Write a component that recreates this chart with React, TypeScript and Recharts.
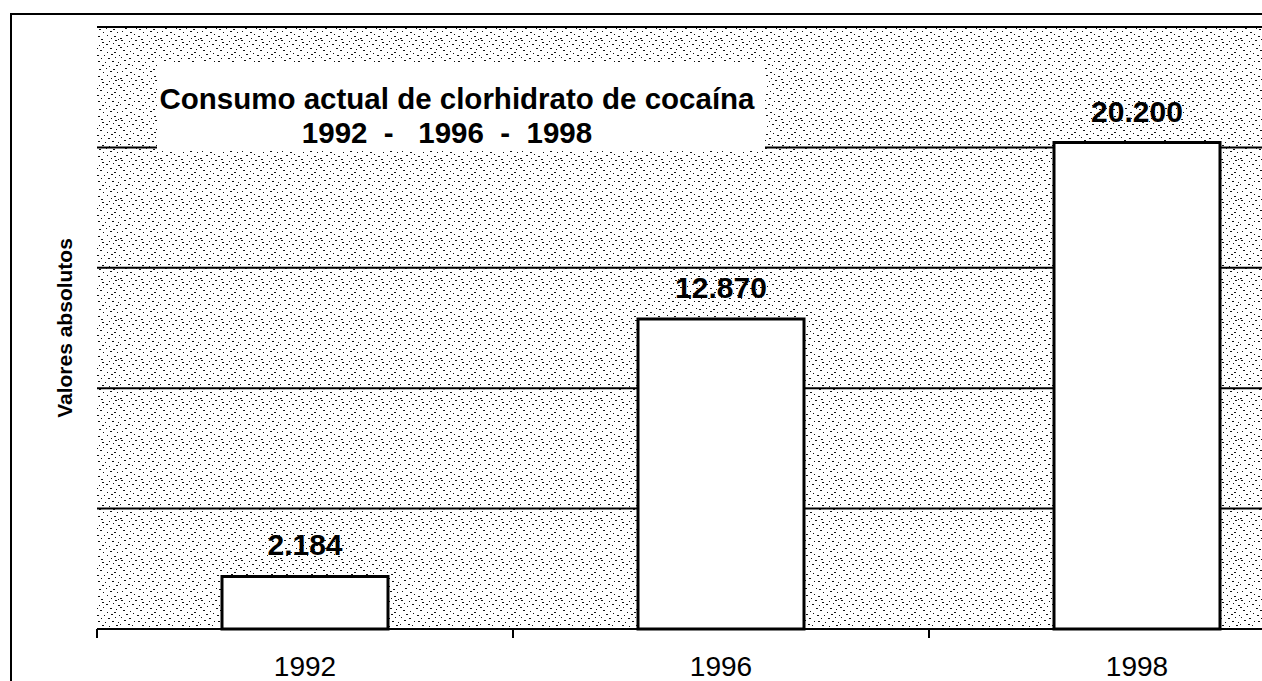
import { BarChart, Bar, XAxis, YAxis, CartesianGrid, LabelList } from 'recharts';

// datos (valores absolutos)
const years = ['1992', '1996', '1998'];
const consumers = [2184, 12870, 20200];
const yTicks = [0, 5000, 10000, 15000, 20000];

const data = years.map((year, i) => ({ year, value: consumers[i] }));

const fmt = (v: number) => String(v).replace(/\B(?=(\d{3})+(?!\d))/g, '.');

// textura de fondo tipo fotocopia (estilo, no datos)
const dots = [
  [1, 0, 2], [9, 1, 1], [15, 0, 2], [22, 2, 2], [29, 1, 1], [35, 0, 2],
  [4, 3, 1], [12, 4, 2], [19, 5, 1], [26, 4, 2], [33, 3, 1], [38, 5, 2],
  [0, 7, 2], [7, 6, 1], [16, 8, 2], [23, 7, 1], [30, 8, 2], [36, 9, 1],
  [3, 10, 2], [10, 11, 1], [20, 10, 2], [27, 12, 1], [34, 12, 2],
  [6, 14, 2], [13, 13, 1], [17, 15, 2], [24, 15, 1], [31, 14, 2], [39, 15, 1],
  [1, 17, 1], [9, 18, 2], [21, 18, 1], [28, 18, 2], [35, 17, 1],
  [4, 20, 2], [14, 21, 1], [18, 21, 2], [25, 22, 1], [32, 21, 2], [38, 22, 1],
  [0, 24, 1], [8, 24, 2], [12, 25, 1], [22, 25, 2], [29, 26, 1], [36, 25, 2],
  [5, 28, 2], [16, 28, 1], [19, 29, 2], [26, 28, 1], [33, 29, 2],
  [2, 31, 1], [10, 32, 2], [23, 32, 1], [30, 31, 2], [37, 32, 1],
  [6, 35, 2], [14, 34, 1], [18, 36, 2], [27, 35, 1], [34, 36, 2],
  [0, 38, 2], [11, 38, 1], [21, 39, 2], [31, 38, 1], [38, 39, 1],
];

const font = '"Liberation Sans", Arial, sans-serif';

function YearTick(props: any) {
  const { x, y, payload } = props;
  const half = payload && payload.offset != null ? payload.offset : 208;
  return (
    <g>
      <line x1={x - half} x2={x - half} y1={y} y2={y + 9} stroke="#000" strokeWidth={2} />
      <text x={x} y={y + 47} textAnchor="middle" fontSize={28} fill="#000" fontFamily={font}>
        {payload.value}
      </text>
    </g>
  );
}

export default function App() {
  return (
    <div
      style={{
        position: 'fixed',
        left: 0,
        top: 0,
        width: 1262,
        height: 681,
        overflow: 'hidden',
        background: '#fff',
        fontFamily: font,
      }}
    >
      <div
        style={{
          position: 'absolute',
          left: 10,
          top: 13,
          right: -10,
          bottom: -10,
          borderTop: '2px solid #000',
          borderLeft: '2px solid #000',
        }}
      />
      <div style={{ position: 'absolute', left: 0, top: 0 }}>
        <BarChart
          width={1345}
          height={681}
          data={data}
          margin={{ top: 27, right: 0, left: 33, bottom: 0 }}
        >
          <defs>
            <pattern id="noise" width={40} height={40} patternUnits="userSpaceOnUse">
              <rect width={40} height={40} fill="#fff" />
              {dots.map(([x, y, w], i) => (
                <rect key={i} x={x} y={y} width={w} height={1} fill="#111" />
              ))}
            </pattern>
          </defs>
          <CartesianGrid
            vertical={false}
            stroke="#000"
            strokeWidth={2}
            fill="url(#noise)"
            fillOpacity={1}
          />
          <XAxis
            dataKey="year"
            height={52}
            tickLine={false}
            tickSize={0}
            tickMargin={0}
            axisLine={{ stroke: '#000', strokeWidth: 2 }}
            tick={<YearTick />}
          />
          <YAxis
            width={64}
            domain={[0, 25000]}
            ticks={yTicks}
            tick={() => <g />}
            tickLine={false}
            axisLine={false}
            label={{
              value: 'Valores absolutos',
              angle: -90,
              position: 'center',
              style: { fontSize: 21, fontWeight: 'bold', fill: '#000', fontFamily: font },
            }}
          />
          <Bar
            dataKey="value"
            fill="#fff"
            stroke="#000"
            strokeWidth={3}
            barSize={166}
            isAnimationActive={false}
          >
            <LabelList
              dataKey="value"
              position="top"
              offset={21}
              formatter={(v: any) => fmt(Number(v))}
              style={{ fontSize: 30, fontWeight: 'bold', fill: '#000', fontFamily: font }}
            />
          </Bar>
        </BarChart>
      </div>
      <div
        style={{
          position: 'absolute',
          left: 157,
          top: 62,
          width: 608,
          height: 88,
          background: '#fff',
          boxSizing: 'border-box',
          paddingTop: 20,
          paddingRight: 8,
          textAlign: 'center',
          fontSize: 29.5,
          fontWeight: 'bold',
          lineHeight: '34px',
          whiteSpace: 'pre',
          color: '#000',
        }}
      >
        <div>Consumo actual de clorhidrato de cocaína</div>
        <div style={{ paddingRight: 20 }}>1992  -   1996  -  1998</div>
      </div>
    </div>
  );
}
